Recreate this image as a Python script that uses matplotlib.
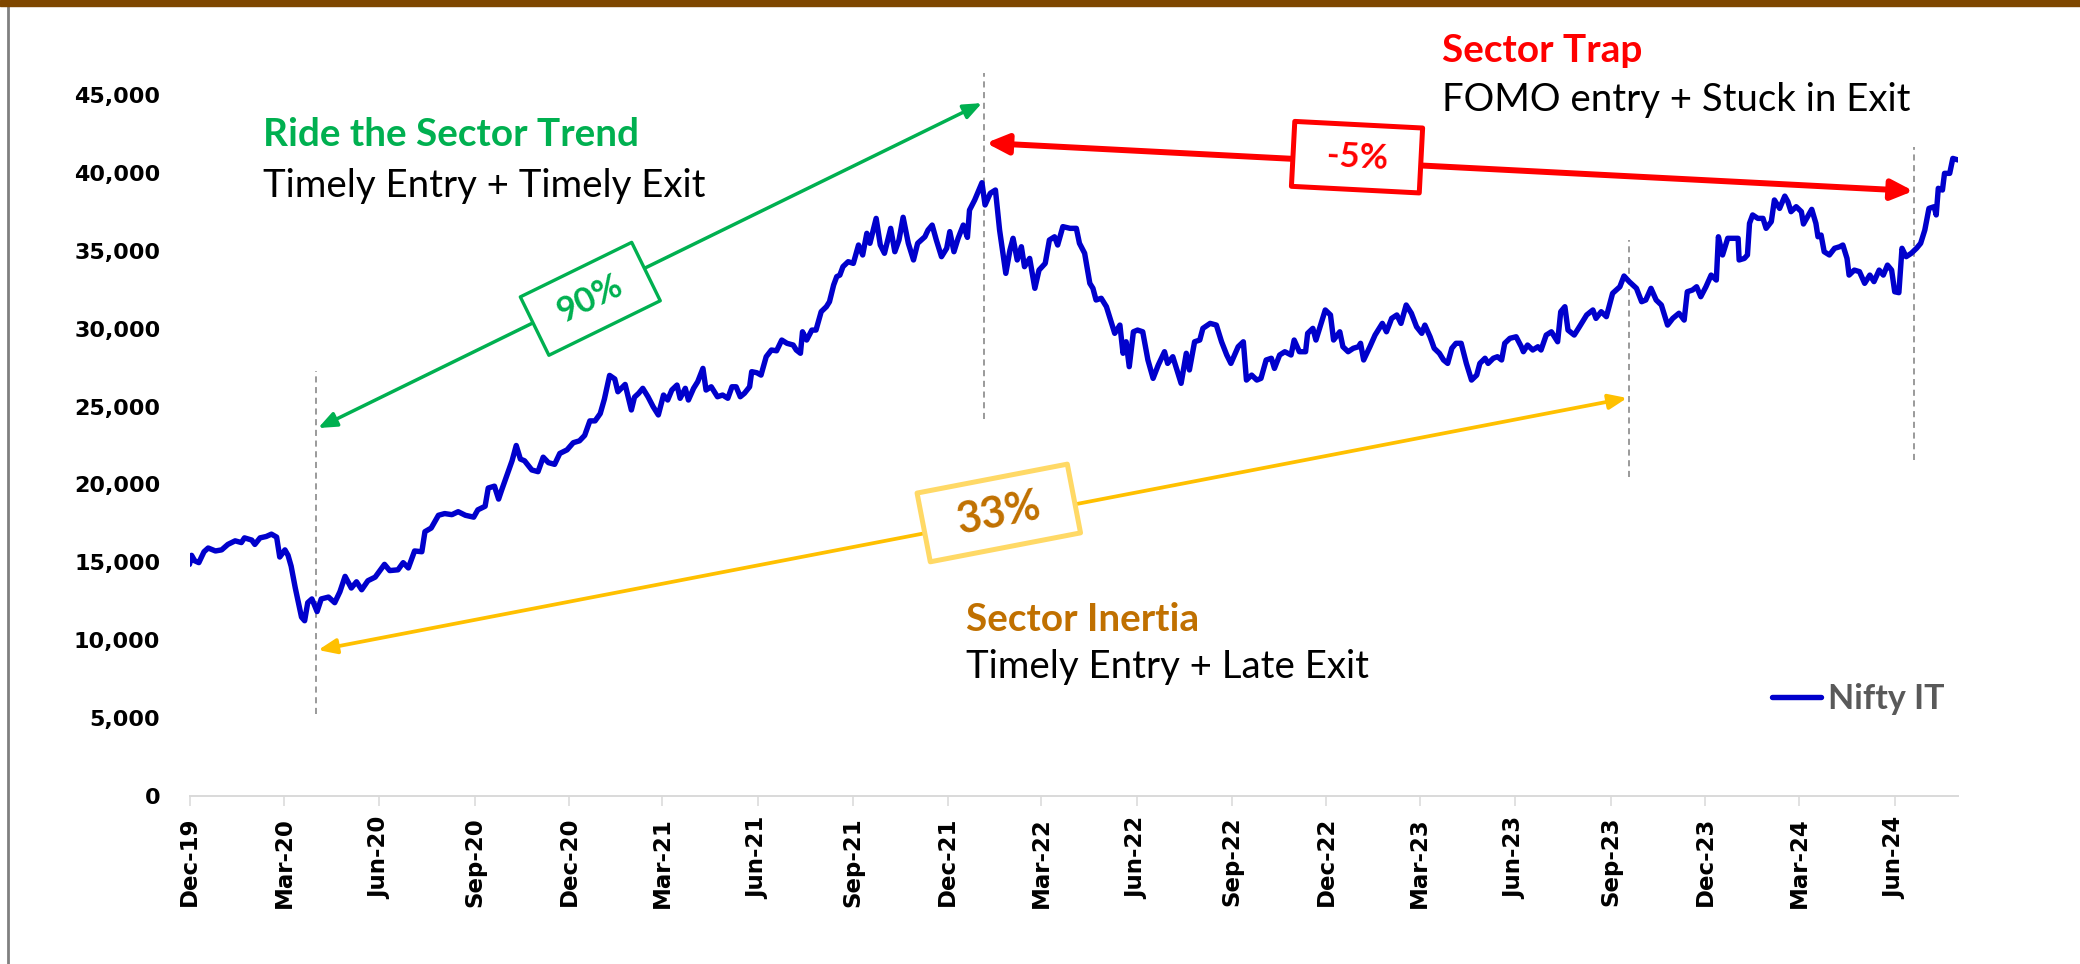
import numpy as np
import pandas as pd
import matplotlib
matplotlib.use("Agg")
import matplotlib.pyplot as plt
import matplotlib.dates as mdates
import matplotlib.transforms as mtransforms
from matplotlib.patches import Rectangle, FancyArrowPatch
from matplotlib.lines import Line2D
from matplotlib.ticker import FuncFormatter

# Nifty IT closes: days after 2019-12-01 and index level
days = [
    0, 2, 5, 9, 14, 18, 25, 31, 37, 44, 50, 53, 60, 63, 68, 74, 79, 84, 87, 92,
    95, 98, 102, 105, 108, 111, 114, 118, 123, 127, 134, 140, 145, 150, 156, 161, 166, 172, 179, 188,
    193, 201, 206, 211, 217, 224, 227, 233, 240, 246, 253, 259, 266, 274, 278, 285, 288, 294, 298, 301,
    306, 311, 315, 319, 323, 330, 336, 341, 346, 352, 357, 364, 370, 376, 381, 386, 391, 396, 400, 405,
    410, 413, 420, 426, 429, 433, 437, 442, 447, 452, 457, 461, 465, 470, 473, 478, 481, 486, 490, 495,
    498, 503, 509, 514, 519, 523, 527, 531, 535, 540, 542, 547, 551, 556, 561, 566, 571, 576, 582, 585,
    589, 591, 595, 600, 604, 609, 614, 617, 621, 624, 627, 630, 635, 640, 645, 649, 653, 656, 662, 666,
    670, 676, 680, 684, 688, 693, 698, 702, 709, 712, 716, 720, 725, 730, 733, 737, 741, 746, 750, 752,
    757, 764, 767, 772, 777, 781, 787, 791, 794, 798, 802, 805, 810, 815, 819, 825, 829, 834, 837, 842,
    849, 855, 858, 863, 868, 871, 874, 879, 884, 887, 892, 897, 900, 903, 906, 910, 914, 919, 924, 929,
    934, 940, 943, 948, 953, 956, 961, 964, 969, 974, 977, 984, 990, 995, 1000, 1004, 1011, 1016, 1019, 1024,
    1029, 1033, 1038, 1043, 1046, 1051, 1056, 1062, 1065, 1070, 1076, 1078, 1083, 1086, 1091, 1095, 1100, 1103, 1109, 1112,
    1117, 1122, 1127, 1129, 1132, 1138, 1143, 1147, 1150, 1154, 1159, 1164, 1168, 1173, 1178, 1183, 1188, 1191, 1196, 1200,
    1205, 1209, 1213, 1217, 1221, 1226, 1231, 1236, 1241, 1244, 1249, 1252, 1257, 1261, 1265, 1268, 1273, 1279, 1284, 1286,
    1290, 1295, 1300, 1303, 1308, 1313, 1319, 1322, 1326, 1329, 1335, 1340, 1347, 1353, 1356, 1361, 1366, 1372, 1379, 1383,
    1388, 1395, 1400, 1404, 1409, 1414, 1419, 1425, 1430, 1436, 1441, 1444, 1449, 1453, 1457, 1462, 1467, 1472, 1474, 1478,
    1483, 1489, 1493, 1494, 1499, 1502, 1504, 1507, 1512, 1517, 1520, 1525, 1528, 1533, 1538, 1541, 1544, 1549, 1554, 1556,
    1560, 1564, 1568, 1570, 1573, 1576, 1581, 1586, 1591, 1594, 1598, 1600, 1605, 1610, 1615, 1620, 1624, 1629, 1633, 1637,
    1641, 1644, 1648, 1651, 1655, 1660, 1665, 1669, 1673, 1677, 1682, 1684, 1686, 1690, 1692, 1697, 1700, 1705,
]
nifty_it = [
    14870, 15450, 15100, 14980, 15680, 15920, 15730, 15800, 16150, 16380, 16270, 16570, 16430, 16150, 16570, 16660, 16810, 16620, 15340, 15800,
    15450, 14750, 13350, 12410, 11480, 11250, 12410, 12650, 11840, 12650, 12770, 12410, 13110, 14100, 13350, 13750, 13240, 13820, 14050, 14870,
    14470, 14520, 14980, 14640, 15730, 15680, 16970, 17200, 18020, 18130, 18060, 18250, 18020, 17900, 18370, 18600, 19770, 19890, 19060, 19650,
    20590, 21520, 22500, 21630, 21520, 20930, 20820, 21750, 21400, 21290, 21990, 22220, 22680, 22800, 23150, 24080, 24080, 24550, 25480, 27000,
    26770, 25950, 26420, 24780, 25600, 25850, 26170, 25630, 24990, 24460, 25740, 25420, 26060, 26380, 25530, 26170, 25420, 26170, 26600, 27450,
    26060, 26270, 25630, 25740, 25530, 26270, 26270, 25630, 25850, 26270, 27240, 27170, 27020, 28200, 28630, 28580, 29270, 29060, 28950, 28630,
    28420, 29800, 29270, 29910, 29910, 31090, 31410, 31730, 32800, 33340, 33440, 33980, 34300, 34190, 35370, 34730, 36120, 35480, 37080, 35370,
    34840, 36440, 34940, 35690, 37150, 35480, 34410, 35480, 35900, 36330, 36650, 35690, 34620, 35160, 36230, 34940, 35800, 36650, 35860, 37610,
    38260, 39370, 37940, 38690, 38900, 36330, 33550, 35050, 35800, 34410, 35260, 33980, 34510, 32590, 33760, 34190, 35690, 35900, 35370, 36550,
    36440, 36440, 35480, 34840, 32910, 32590, 31840, 31950, 31410, 30770, 29700, 30230, 28420, 29160, 27560, 29800, 29910, 29800, 27990, 26810,
    27670, 28520, 27770, 28200, 27130, 26490, 28420, 27350, 29160, 29270, 30020, 30340, 30230, 29160, 28310, 27770, 28840, 29160, 26700, 27020,
    26700, 26810, 27990, 28100, 27450, 28310, 28520, 28310, 29270, 28520, 28520, 29700, 30020, 29270, 30340, 31200, 30880, 29270, 29800, 28840,
    28520, 28740, 28840, 29060, 27990, 28840, 29590, 30020, 30340, 29800, 30660, 30880, 30340, 31520, 30990, 30120, 29700, 30230, 29480, 28740,
    28420, 27990, 27770, 28740, 29060, 29060, 27770, 26700, 27020, 27770, 28100, 27770, 28100, 28200, 27990, 29060, 29380, 29480, 28840, 28520,
    28950, 28630, 28840, 28630, 29590, 29800, 29160, 31090, 31410, 29910, 29590, 30120, 30880, 31200, 30660, 31090, 30770, 32270, 32690, 33380,
    33020, 32590, 31730, 31840, 32590, 31840, 31520, 30230, 30660, 30990, 30550, 32370, 32480, 32690, 32050, 32690, 33440, 33120, 35900, 34730,
    35800, 35800, 35800, 34410, 34510, 34730, 36760, 37300, 37080, 37080, 36440, 36870, 38260, 37720, 38510, 38150, 37510, 37830, 37510, 36720,
    37190, 37660, 36760, 35900, 36010, 34940, 34730, 35160, 35260, 35370, 34510, 33440, 33760, 33660, 32910, 33440, 33020, 33760, 33440, 34080,
    33760, 32370, 32310, 35160, 34620, 34840, 35160, 35480, 36330, 37720, 37830, 37300, 39010, 38900, 39970, 39970, 40930, 40830,
]

start_date = "2019-12-01"
tick_months = pd.date_range("2019-12-01", "2024-06-01", freq="3MS")
y_ticks = list(range(0, 45001, 5000))

# entry / exit markers (date, low, high) and the three trade arrows
markers = [
    ("2020-04-01", 5260, 27270),
    ("2022-01-05", 24200, 46410),
    ("2023-09-19", 20450, 35690),
    ("2024-06-20", 21570, 41680),
]
trend_arrow = (("2020-04-03", 23620), ("2022-01-03", 44480))
trap_arrow = (("2022-01-07", 41920), ("2024-06-19", 38840))
inertia_arrow = (("2020-04-03", 9370), ("2023-09-17", 25550))

W, H, DPI = 2080, 964, 100
GREEN, RED, GOLD, ORANGE = "#00B050", "#FF0000", "#FFC000", "#C07000"

dates = pd.Timestamp(start_date) + pd.to_timedelta(days, unit="D")

fig = plt.figure(figsize=(W / DPI, H / DPI), dpi=DPI)
ax = fig.add_axes([189.5 / W, 1 - 796 / H, (1958 - 189.5) / W, (796 - 95) / H])

ax.plot(dates, nifty_it, color="#0000CC", lw=3.9, solid_joinstyle="round",
        solid_capstyle="round", label="Nifty IT", zorder=3)

ax.set_xlim(pd.Timestamp(start_date), dates[-1])
ax.set_ylim(0, 45000)
ax.set_xticks(tick_months)
ax.set_xticklabels([d.strftime("%b-%y") for d in tick_months], rotation=90,
                   fontsize=16.5, fontweight="bold")
ax.set_yticks(y_ticks)
ax.yaxis.set_major_formatter(FuncFormatter(lambda v, _: f"{v:,.0f}"))
for lab in ax.get_yticklabels():
    lab.set_fontweight("bold")
ax.tick_params(axis="y", length=0, pad=21, labelsize=16)
ax.tick_params(axis="x", length=7, width=1.1, color="#D9D9D9", pad=8)
for side in ("top", "right", "left"):
    ax.spines[side].set_visible(False)
ax.spines["bottom"].set_color("#D9D9D9")
ax.spines["bottom"].set_linewidth(1.4)

for d, lo, hi in markers:
    ax.plot([pd.Timestamp(d)] * 2, [lo, hi], color="#7F7F7F", lw=1.1,
            ls=(0, (4, 3)), clip_on=False, zorder=2)


def to_px(point):
    d, v = point
    return ax.transData.transform((mdates.date2num(pd.Timestamp(d)), v))


def trade_arrow(arrow, color, lw, head_len, head_w):
    p0, p1 = to_px(arrow[0]), to_px(arrow[1])
    patch = FancyArrowPatch(p0, p1, transform=mtransforms.IdentityTransform(),
                            arrowstyle=f"<|-|>,head_length={head_len},head_width={head_w}",
                            color=color, lw=lw, shrinkA=0, shrinkB=0, zorder=4)
    fig.patches.append(patch)
    return p0, p1


def gain_box(p0, p1, t, text, w, h, edge, lw, tcolor, size, dy=0):
    ang = np.degrees(np.arctan2(p1[1] - p0[1], p1[0] - p0[0]))
    cx, cy = p0 + t * (p1 - p0)
    cy += dy
    tr = mtransforms.Affine2D().rotate_deg(ang).translate(cx, cy)
    fig.patches.append(Rectangle((-w / 2, -h / 2), w, h, transform=tr, facecolor="white",
                                 edgecolor=edge, lw=lw, joinstyle="round", zorder=5))
    fig.text(cx, cy, text, transform=mtransforms.IdentityTransform(), rotation=ang,
             rotation_mode="anchor", ha="center", va="center", color=tcolor,
             fontsize=size, fontweight="bold", family="Lato", zorder=6)


p0, p1 = trade_arrow(trend_arrow, GREEN, 2.5, 11, 4.5)
gain_box(p0, p1, 0.41, "90%", 124, 65, GREEN, 2.4, GREEN, 25, dy=-4)
p0, p1 = trade_arrow(trap_arrow, RED, 4.3, 13, 6)
gain_box(p0, p1, 0.40, "-5%", 128, 65, RED, 3.6, RED, 25, dy=5)
p0, p1 = trade_arrow(inertia_arrow, GOLD, 2.7, 11, 4.5)
gain_box(p0, p1, 0.52, "33%", 153, 70, "#FFD966", 3.6, ORANGE, 31, dy=6)


def fig_text(x, y, s, color, weight, size):
    fig.text(x / W, 1 - y / H, s, color=color, fontsize=size, fontweight=weight,
             family="Lato", va="baseline", ha="left")


fig_text(263, 146, "Ride the Sector Trend", GREEN, "bold", 27.9)
fig_text(263, 197, "Timely Entry + Timely Exit", "black", "normal", 27.6)
fig_text(1442, 62, "Sector Trap", RED, "bold", 27.9)
fig_text(1442, 111, "FOMO entry + Stuck in Exit", "black", "normal", 27.6)
fig_text(966, 631, "Sector Inertia", ORANGE, "bold", 27.9)
fig_text(966, 678, "Timely Entry + Late Exit", "black", "normal", 27.6)

leg = ax.legend(loc="center left", bbox_to_anchor=(1772 / W, 1 - 699 / H),
                bbox_transform=fig.transFigure, frameon=False, borderpad=0,
                borderaxespad=0, handlelength=1.45, handletextpad=0.2,
                prop=dict(family="Lato", weight="bold", size=24.5))
for txt in leg.get_texts():
    txt.set_color("#595959")

# slide frame: brown band on top, grey rule on the left
fig.patches.append(Rectangle((0, 1 - 6 / H), 1, 6 / H, transform=fig.transFigure,
                             color="#7F4700", zorder=10))
fig.lines.append(Line2D([8 / W, 8 / W], [0, 1], transform=fig.transFigure,
                        color="#808080", lw=2))

fig.savefig("out.png", dpi=DPI)
